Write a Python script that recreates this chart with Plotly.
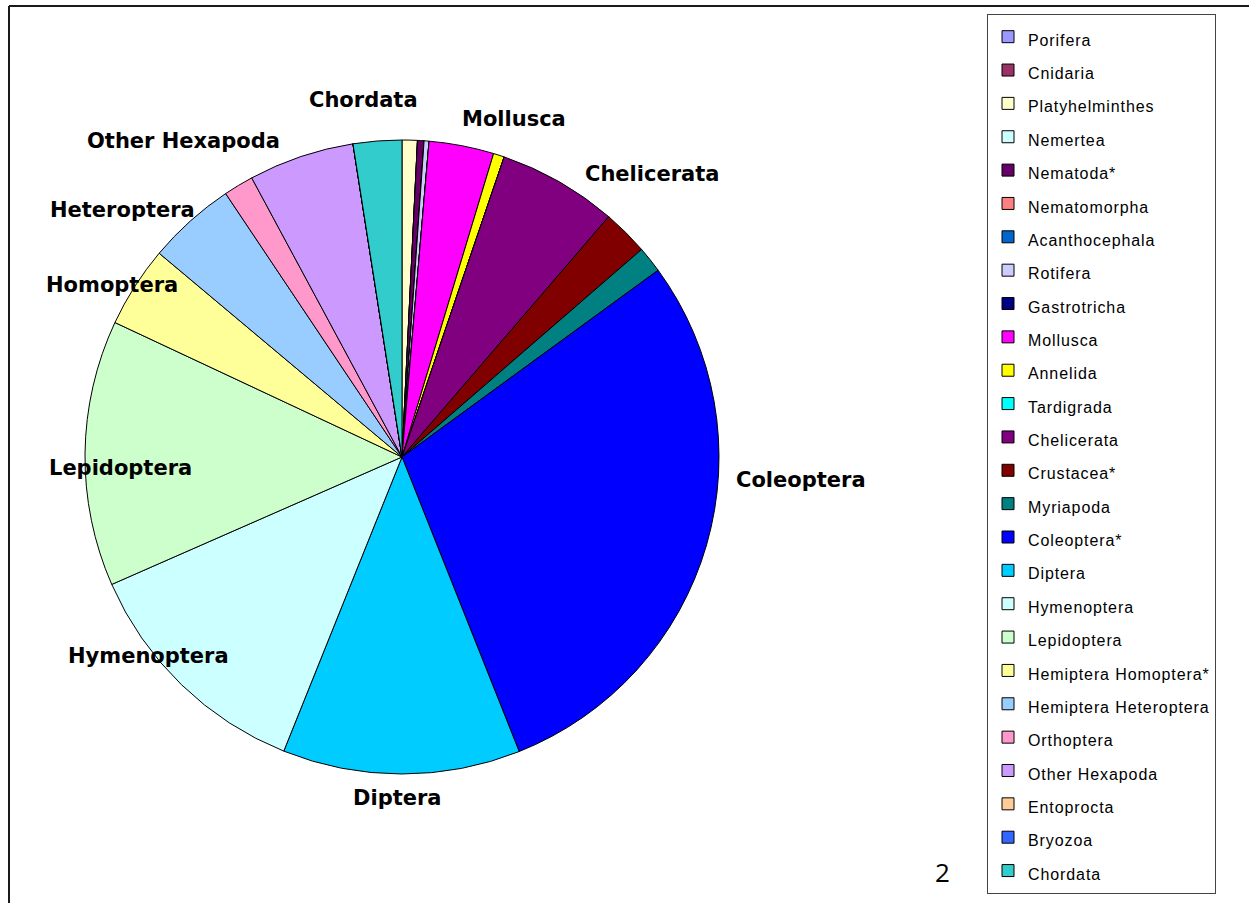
import plotly.graph_objects as go

W, H = 1249, 903

categories = ["Porifera", "Cnidaria", "Platyhelminthes", "Nemertea", "Nematoda*",
              "Nematomorpha", "Acanthocephala", "Rotifera", "Gastrotricha", "Mollusca",
              "Annelida", "Tardigrada", "Chelicerata", "Crustacea*", "Myriapoda",
              "Coleoptera*", "Diptera", "Hymenoptera", "Lepidoptera", "Hemiptera Homoptera*",
              "Hemiptera Heteroptera", "Orthoptera", "Other Hexapoda", "Entoprocta",
              "Bryozoa", "Chordata"]
values = [0, 0, 2.8, 0, 1.2,
          0, 0, 0.9, 0, 11.9,
          2.0, 0, 21.9, 8.4, 4.8,
          104.4, 43.6, 44.4, 48.8, 14.9,
          16.2, 5.5, 19.4, 0,
          0, 8.9]
colors = ["#9999FF", "#993366", "#FFFFCC", "#CCFFFF", "#660066",
          "#FF8080", "#0066CC", "#CCCCFF", "#000080", "#FF00FF",
          "#FFFF00", "#00FFFF", "#800080", "#800000", "#008080",
          "#0000FF", "#00CCFF", "#CCFFFF", "#CCFFCC", "#FFFF99",
          "#99CCFF", "#FF99CC", "#CC99FF", "#FFCC99",
          "#3366FF", "#33CCCC"]

# outside labels (text, pixel position of text centre)
slice_labels = ["Chordata", "Other Hexapoda", "Heteroptera", "Homoptera", "Lepidoptera",
                "Hymenoptera", "Diptera", "Coleoptera", "Chelicerata", "Mollusca"]
label_pos = [(363, 100), (183, 141), (122, 210), (112, 285), (120, 468),
             (148, 656), (397, 798), (801, 480), (652, 174), (514, 119)]

# pie geometry (pixels)
cx, cy, R = 402, 457, 317

legend_labels = [f"<span style='font-size:16px;letter-spacing:0.9px'>{c}</span>"
                 for c in categories]

fig = go.Figure(go.Pie(
    labels=legend_labels,
    values=values,
    sort=False,
    direction="clockwise",
    rotation=0,
    textinfo="none",
    hoverinfo="label+percent",
    marker=dict(colors=colors, line=dict(color="#000000", width=1)),
    domain=dict(x=[(cx - R) / W, (cx + R) / W],
                y=[(H - cy - R) / H, (H - cy + R) / H]),
    showlegend=True,
))

annotations = []
for txt, (px, py) in zip(slice_labels, label_pos):
    annotations.append(dict(
        x=px / W, y=1 - py / H, xref="paper", yref="paper",
        text=f"<b>{txt}</b>", showarrow=False, xanchor="center", yanchor="middle",
        font=dict(family="DejaVu Sans", size=21, color="#000000"),
    ))
annotations.append(dict(
    x=943 / W, y=1 - 872 / H, xref="paper", yref="paper", text="2", showarrow=False,
    xanchor="center", yanchor="middle",
    font=dict(family="Open Sans", size=26, color="#000000"),
))

shapes = [
    dict(type="line", xref="paper", yref="paper", x0=9 / W, x1=1, y0=1 - 6 / H, y1=1 - 6 / H,
         line=dict(color="#1a1a1a", width=2)),
    dict(type="line", xref="paper", yref="paper", x0=9 / W, x1=9 / W, y0=1 - 6 / H, y1=0,
         line=dict(color="#1a1a1a", width=2)),
]

fig.update_layout(
    width=W, height=H,
    margin=dict(l=0, r=0, t=0, b=0),
    paper_bgcolor="white", plot_bgcolor="white",
    annotations=annotations,
    shapes=shapes,
    legend=dict(
        x=987 / W, y=1 - 14 / H, xanchor="left", yanchor="top",
        font=dict(family="Liberation Sans", size=23.35, color="#000000"),
        bordercolor="#444444", borderwidth=1, bgcolor="white",
        itemwidth=30, traceorder="normal",
    ),
)

fig.write_html("out.html",
               config={"displayModeBar": False},
               post_script="document.body.style.margin='0';document.body.style.overflow='hidden';")
